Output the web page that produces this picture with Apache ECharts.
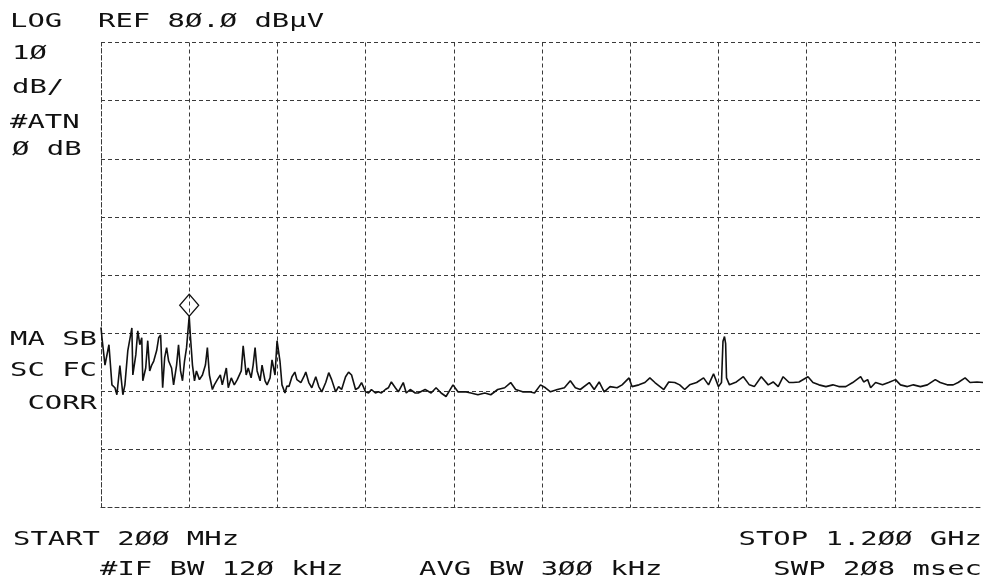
<!DOCTYPE html>
<html>
<head>
<meta charset="utf-8">
<script src="https://cdn.jsdelivr.net/npm/echarts@6/dist/echarts.min.js"></script>
<style>
html,body{margin:0;padding:0;background:#fff;}
#chart{width:983px;height:582px;}
</style>
</head>
<body>
<div id="chart"></div>
<script>
// Frequency axis (MHz) and reference level scale (dBµV)
const freqStart = 200, freqStop = 1200, freqStep = 100;
const levelMin = 0, levelRef = 80, levelStep = 10;

// Trace: frequency (MHz) and level (dBµV)
const freqMHz = [
  200, 201.1, 204.5, 209.0, 212.4, 215.8, 218.0, 221.4, 224.8, 227.1,
  230.4, 235.0, 236.1, 239.5, 241.7, 244.0, 246.2, 247.4, 250.7, 253.0,
  255.2, 257.5, 259.8, 263.1, 265.4, 267.6, 269.9, 272.2, 274.4, 276.7,
  280.0, 282.3, 285.7, 287.9, 290.2, 292.4, 294.7, 297.0, 300.0, 301.5,
  303.7, 306.0, 308.2, 311.6, 315.0, 318.4, 320.6, 322.9, 326.3, 328.5,
  331.9, 335.3, 337.5, 342.1, 344.3, 347.7, 351.1, 354.5, 359.0, 361.2,
  364.6, 366.9, 370.2, 372.5, 374.7, 377.0, 380.4, 382.6, 386.0, 388.3,
  391.7, 393.9, 397.3, 399.6, 402.9, 405.2, 408.6, 410.8,
  413.1, 416.5, 419.8, 422.1, 426.6, 430, 432.2, 435.6, 439, 443.5,
  446.9, 450.3, 454.8, 458.2, 461.5, 466, 469.4, 472.8, 477.3, 480.7,
  484.1, 488.6, 492, 495.4, 499.9, 503.3, 506.6, 511.1, 514.5, 517.9,
  522.4, 525.8, 529.2, 533.7, 537.1, 542.7, 546.1, 550.6, 556.3,
  559.6, 567.5, 574.3, 579.9, 585.6, 591.2, 599.1, 604.7, 612.6, 619.4,
  627.3, 635.2, 641.9, 649.8, 657.7, 664.5, 670.1, 678, 685.9, 691.5,
  698.3, 703.9, 709.6, 717.5, 725.4, 732.1, 737.8, 743.4, 753.6, 759.2,
  764.8, 770.5, 777.2, 785.1, 790.8, 798.7, 802, 809.9, 816.7, 822.3,
  828, 838.1, 843.7, 850.5, 856.1, 861.8, 867.4, 875.3, 883.2, 888.8,
  894.5, 900.1, 903.5, 905.2, 906.9, 908.2, 909.2, 912.5, 920.4, 928.3,
  935.1, 940.7, 948.6, 956.5, 962.1, 967.8, 973.4, 980.2, 984.7, 991.4,
  1001.6, 1007.2, 1014, 1021.9, 1029.8, 1036.5, 1044.4, 1052.3, 1061.3, 1064.7,
  1069.2, 1072.6, 1078.2, 1086.1, 1092.9, 1100.8, 1106.4, 1114.3, 1121.1, 1129,
  1136.9, 1145.9, 1151.5, 1159.4, 1166.2, 1171.8, 1179.7, 1185.3, 1193.2, 1200
];
const levelDbuV = [
  31.0, 29.2, 24.5, 28.0, 21.1, 20.6, 19.4, 24.4, 19.4, 21.1,
  27.0, 30.9, 22.8, 26.3, 30.4, 28.0, 29.2, 21.8, 24.0, 28.7,
  23.5, 24.5, 25.2, 27.0, 29.2, 29.7, 20.6, 25.8, 27.5, 25.2,
  24.0, 21.1, 24.5, 28.0, 23.5, 21.8, 25.2, 27.5, 32.9, 29.2,
  24.5, 21.8, 23.5, 22.0, 22.8, 24.5, 27.5, 22.8, 20.3, 21.1,
  22.0, 22.8, 21.1, 24.0, 20.6, 22.3, 21.1, 22.0, 23.5, 27.8,
  22.8, 24.0, 22.3, 24.5, 27.5, 23.5, 21.8, 24.5, 21.8, 21.1,
  22.3, 25.4, 22.8, 28.7, 25.2, 21.1, 19.7, 20.9,
  20.8, 22.5, 23.3, 22.0, 21.5, 22.5, 23.3, 21.5, 20.6, 22.5,
  20.8, 19.9, 21.5, 23.2, 22.0, 19.9, 20.8, 20.3, 22.5, 23.3,
  22.8, 20.3, 20.6, 21.5, 19.9, 19.7, 20.3, 19.7, 19.9, 19.7,
  20.3, 20.6, 21.6, 20.6, 19.9, 21.5, 19.7, 20.3, 19.7,
  19.7, 20.3, 19.7, 20.6, 19.7, 19.1, 21.1, 19.9, 19.9, 19.7,
  19.4, 19.7, 19.4, 20.3, 20.6, 21.5, 20.3, 19.9, 19.9, 19.7,
  21.1, 20.6, 19.9, 20.3, 20.6, 21.8, 20.6, 20.3, 21.5, 20.3,
  21.6, 19.9, 20.8, 20.6, 21.1, 22.3, 20.8, 21.1, 21.5, 22.3,
  21.5, 20.3, 21.6, 21.5, 21.1, 20.3, 21.1, 21.5, 22.3, 21.1,
  23.0, 20.8, 21.5, 28.6, 29.4, 28.2, 22.3, 21.1, 21.6, 22.5,
  21.1, 20.8, 22.5, 21.1, 21.6, 20.8, 22.5, 21.5, 21.5, 21.6,
  22.5, 21.5, 21.1, 20.8, 21.1, 20.8, 20.8, 21.5, 22.5, 21.6,
  22.0, 20.6, 21.5, 21.1, 21.5, 22.0, 21.1, 20.8, 21.1, 20.8,
  21.1, 22.0, 21.5, 21.1, 21.1, 21.5, 22.3, 21.5, 21.6, 21.5
];

// Marker (peak)
const markerFreq = 300.0, markerLevel = 32.9;

// Annotation texts
const headerTexts = ['LOG', 'REF 8Ø.Ø dBµV'];
const sideTexts = ['1Ø', 'dB/', '#ATN', 'Ø dB'];
const markTexts = ['MA SB', 'SC FC', 'CORR'];
const footerLeft = ['START 2ØØ MHz', '#IF BW 12Ø kHz', 'AVG BW 3ØØ kHz'];
const footerRight = ['STOP 1.2ØØ GHz', 'SWP 2Ø8 msec'];

const traceData = freqMHz.map((f, i) => [f, levelDbuV[i]]);

const FONT = '19px "DejaVu Sans Mono"';
const SX = 1.52;
function txt(text, x, y, align) {
  return {
    type: 'text', x: x, y: y, scaleX: SX, scaleY: 1, z: 100,
    style: { text: text, font: FONT, fill: '#111', align: align || 'left', verticalAlign: 'middle' }
  };
}

const gridLine = { color: '#3a3a3a', width: 1, type: [4, 3] };

const chart = echarts.init(document.getElementById('chart'), null, { renderer: 'canvas' });
chart.setOption({
  backgroundColor: '#ffffff',
  animation: false,
  grid: { left: 101, top: 42.5, width: 887, height: 465, containLabel: false },
  xAxis: {
    type: 'value', min: freqStart, max: freqStop, interval: freqStep,
    axisLine: { show: true, lineStyle: gridLine },
    axisTick: { show: false }, axisLabel: { show: false },
    splitLine: { show: true, lineStyle: gridLine }
  },
  yAxis: {
    type: 'value', min: levelMin, max: levelRef, interval: levelStep,
    axisLine: { show: true, lineStyle: gridLine },
    axisTick: { show: false }, axisLabel: { show: false },
    splitLine: { show: true, lineStyle: gridLine }
  },
  series: [{
    type: 'line',
    data: traceData,
    showSymbol: false,
    symbol: 'none',
    lineStyle: { color: '#111', width: 1.6 },
    markPoint: {
      symbol: 'diamond',
      symbolSize: [19, 22],
      symbolOffset: [0, -11],
      itemStyle: { color: 'rgba(0,0,0,0)', borderColor: '#111', borderWidth: 1.3 },
      label: { show: false },
      data: [{ coord: [markerFreq, markerLevel] }]
    }
  }],
  graphic: [
    txt(headerTexts[0], 10, 22.5),
    txt(headerTexts[1], 98, 22.5),
    txt(sideTexts[0], 12, 54),
    txt(sideTexts[1], 12, 88.5),
    txt(sideTexts[2], 10, 123.5),
    txt(sideTexts[3], 12, 150.5),
    txt(markTexts[0], 97, 340.5, 'right'),
    txt(markTexts[1], 97, 371, 'right'),
    txt(markTexts[2], 97, 404.5, 'right'),
    txt(footerLeft[0], 13, 540.5),
    txt(footerLeft[1], 100, 570.5),
    txt(footerLeft[2], 419, 570.5),
    txt(footerRight[0], 982, 540.5, 'right'),
    txt(footerRight[1], 982, 570.5, 'right')
  ]
});
</script>
</body>
</html>
